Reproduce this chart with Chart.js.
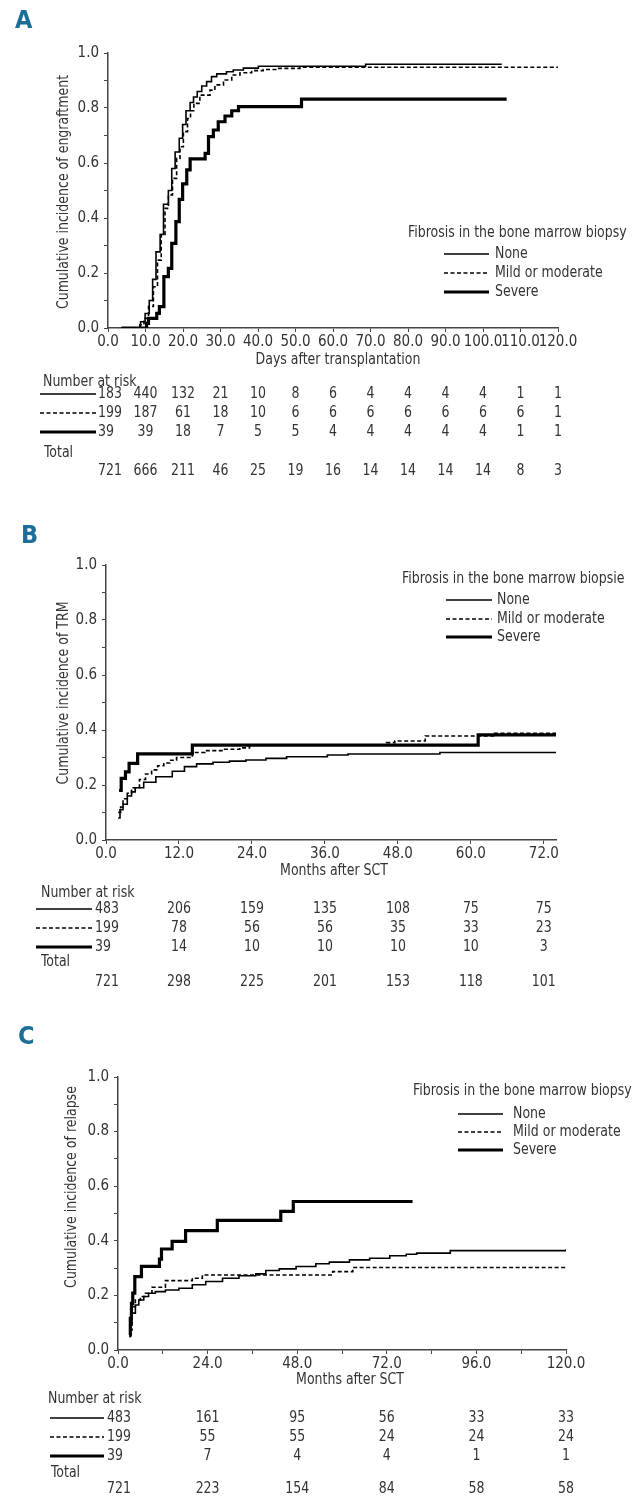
<!DOCTYPE html>
<html>
<head>
<meta charset="utf-8">
<script src="https://cdn.jsdelivr.net/npm/chart.js@4.4.1/dist/chart.umd.min.js"></script>
<style>
  body { margin: 0; background: #fff; }
  #wrap { position: relative; width: 640px; height: 1498px; }
  canvas { position: absolute; left: 0; }
</style>
</head>
<body>
<div id="wrap">
  <canvas id="chartA" width="640" height="505" style="top:0px"></canvas>
  <canvas id="chartB" width="640" height="495" style="top:505px"></canvas>
  <canvas id="chartC" width="640" height="498" style="top:1000px"></canvas>
</div>
<script>
// groups (legend)
const groups = ['None', 'Mild or moderate', 'Severe'];

// ---- Panel A: engraftment (days) ----
const noneA_t = [3.6, 8.7, 9.9, 11.0, 11.9, 12.8, 13.9, 14.8, 16.1, 17.0, 17.9, 19.0, 19.9, 20.8, 21.9, 22.8, 23.8, 25.0, 26.3, 27.6, 29.0, 31.6, 33.4, 36.1, 40.1, 68.7, 105];
const noneA_v = [0, 0.023, 0.053, 0.10, 0.177, 0.277, 0.34, 0.45, 0.50, 0.58, 0.64, 0.69, 0.74, 0.79, 0.82, 0.84, 0.86, 0.88, 0.896, 0.914, 0.924, 0.932, 0.938, 0.945, 0.952, 0.959, 0.959];
const mildA_t = [3.6, 8.5, 9.6, 10.8, 12.1, 13.2, 14.2, 15.2, 16.1, 17.2, 18.3, 19.2, 20.1, 21.2, 22.0, 22.9, 24.5, 27.2, 28.5, 30.8, 33.0, 35.2, 38.3, 41.4, 45.0, 51.2, 120];
const mildA_v = [0, 0.012, 0.035, 0.078, 0.15, 0.247, 0.34, 0.435, 0.484, 0.544, 0.617, 0.659, 0.714, 0.762, 0.79, 0.817, 0.847, 0.865, 0.884, 0.902, 0.92, 0.928, 0.936, 0.94, 0.944, 0.948, 0.948];
const sevA_t = [3.6, 10.3, 10.8, 13.0, 13.7, 14.9, 16.1, 17.0, 18.1, 19.0, 19.9, 21.0, 21.9, 25.9, 26.8, 28.1, 29.4, 31.2, 33.0, 34.8, 51.6, 106.3];
const sevA_v = [0, 0.017, 0.035, 0.053, 0.078, 0.187, 0.217, 0.308, 0.387, 0.468, 0.524, 0.575, 0.615, 0.635, 0.696, 0.72, 0.75, 0.771, 0.79, 0.805, 0.832, 0.832];
const xTicksA = [0, 10, 20, 30, 40, 50, 60, 70, 80, 90, 100, 110, 120];
const riskA = [
  [183, 440, 132, 21, 10, 8, 6, 4, 4, 4, 4, 1, 1],
  [199, 187, 61, 18, 10, 6, 6, 6, 6, 6, 6, 6, 1],
  [39, 39, 18, 7, 5, 5, 4, 4, 4, 4, 4, 1, 1]
];
const totalA = [721, 666, 211, 46, 25, 19, 16, 14, 14, 14, 14, 8, 3];

// ---- Panel B: TRM (months) ----
const noneB_t = [2.0, 2.3, 2.8, 3.5, 4.2, 4.8, 6.2, 8.2, 10.9, 12.9, 14.9, 17.6, 20.3, 23.0, 26.3, 29.7, 36.4, 39.8, 54.9, 74];
const noneB_v = [0.08, 0.11, 0.13, 0.16, 0.175, 0.19, 0.21, 0.23, 0.25, 0.267, 0.277, 0.283, 0.287, 0.291, 0.297, 0.303, 0.309, 0.313, 0.318, 0.318];
const mildB_t = [2.0, 2.4, 2.8, 3.5, 4.2, 5.5, 6.5, 7.5, 8.5, 9.5, 10.5, 11.6, 14.2, 16.3, 19.5, 22.0, 23.6, 46.1, 47.5, 52.5, 63.9, 74];
const mildB_v = [0.10, 0.12, 0.15, 0.17, 0.19, 0.22, 0.24, 0.255, 0.27, 0.28, 0.29, 0.30, 0.318, 0.325, 0.33, 0.335, 0.345, 0.354, 0.36, 0.378, 0.388, 0.388];
const sevB_t = [2.15, 2.5, 3.2, 3.8, 5.2, 14.2, 61.2, 74];
const sevB_v = [0.18, 0.224, 0.248, 0.279, 0.313, 0.345, 0.382, 0.382];
const xTicksB = [0, 12, 24, 36, 48, 60, 72];
const riskB = [
  [483, 206, 159, 135, 108, 75, 75],
  [199, 78, 56, 56, 35, 33, 23],
  [39, 14, 10, 10, 10, 10, 3]
];
const totalB = [721, 298, 225, 201, 153, 118, 101];

// ---- Panel C: relapse (months) ----
const noneC_t = [3.06, 3.3, 3.77, 4.66, 5.56, 6.9, 8.2, 10.0, 12.7, 16.3, 19.9, 23.5, 28.0, 32.4, 36.9, 39.6, 43.2, 47.7, 53.0, 56.6, 62.0, 67.4, 72.8, 77.2, 80, 89, 120];
const noneC_v = [0.05, 0.098, 0.135, 0.165, 0.183, 0.196, 0.208, 0.214, 0.22, 0.226, 0.239, 0.251, 0.263, 0.272, 0.279, 0.291, 0.297, 0.306, 0.316, 0.322, 0.33, 0.336, 0.345, 0.351, 0.355, 0.364, 0.369];
const mildC_t = [3.06, 3.3, 3.77, 4.66, 6.0, 7.35, 9.1, 12.7, 19.9, 22.6, 57.5, 62.9, 120];
const mildC_v = [0.05, 0.073, 0.159, 0.183, 0.196, 0.208, 0.23, 0.254, 0.263, 0.275, 0.287, 0.302, 0.302];
const sevC_t = [3.06, 3.3, 3.6, 3.95, 4.5, 6.28, 11.1, 11.65, 14.5, 18.1, 26.6, 43.6, 46.95, 78.9];
const sevC_v = [0.055, 0.116, 0.171, 0.208, 0.269, 0.306, 0.333, 0.37, 0.398, 0.437, 0.475, 0.508, 0.544, 0.544];
const xTicksC = [0, 12, 24, 36, 48, 60, 72, 84, 96, 108, 120];
const xLabelsC = [0, 24, 48, 72, 96, 120];
const riskC = [
  [483, 161, 95, 56, 33, 33],
  [199, 55, 55, 24, 24, 24],
  [39, 7, 4, 4, 1, 1]
];
const totalC = [721, 223, 154, 84, 58, 58];

const yTicks = [0, 0.1, 0.2, 0.3, 0.4, 0.5, 0.6, 0.7, 0.8, 0.9, 1.0];

const FONT = '"Liberation Sans Narrow", "DejaVu Sans Condensed", Roboto, sans-serif';
const TXT = '#333';
const AXIS = '#444';
const BLUE = '#1b6e98';
const SQUEEZE = 0.93; // the figure's type is a little narrower than ours
const styles = [
  { w: 1.6, dash: [] },
  { w: 1.6, dash: [4, 2.5] },
  { w: 3.2, dash: [] }
];

Chart.defaults.font.family = FONT;
Chart.defaults.font.size = 15;
Chart.defaults.color = TXT;

function pts(t, v) { return t.map((x, i) => ({ x: x, y: v[i] })); }

// text drawn slightly condensed
function txt(ctx, s, x, y) {
  ctx.fillText(s, x, y, ctx.measureText(s).width * SQUEEZE);
}

function sample(ctx, st, x0, x1, y) {
  ctx.save();
  ctx.strokeStyle = '#000';
  ctx.lineWidth = st.w;
  ctx.setLineDash(st.dash);
  ctx.beginPath();
  ctx.moveTo(x0, y);
  ctx.lineTo(x1, y);
  ctx.stroke();
  ctx.restore();
}

// draws the letter, axis titles, legend and the number-at-risk table
const panelDecor = {
  id: 'panelDecor',
  afterDraw(chart, args, o) {
    const ctx = chart.ctx;
    const xs = chart.scales.x;
    ctx.save();
    ctx.fillStyle = BLUE;
    ctx.font = 'bold 25px ' + FONT;
    ctx.textAlign = 'left';
    ctx.textBaseline = 'alphabetic';
    ctx.fillText(o.letter, o.letterX, o.letterY);

    ctx.fillStyle = TXT;
    ctx.font = '15px ' + FONT;
    ctx.textBaseline = 'middle';
    ctx.textAlign = 'center';
    txt(ctx, o.xTitle, o.xTitleX, o.xTitleY);
    ctx.save();
    ctx.translate(o.yTitleX, o.yTitleY);
    ctx.rotate(-Math.PI / 2);
    txt(ctx, o.yTitle, 0, 0);
    ctx.restore();

    // legend
    ctx.textAlign = 'left';
    txt(ctx, o.legTitle, o.legX, o.legTitleY);
    o.legRows.forEach((y, i) => {
      sample(ctx, styles[i], o.legLine[0], o.legLine[1], y);
      txt(ctx, groups[i], o.legTextX, y);
    });

    // number at risk
    txt(ctx, 'Number at risk', o.narX, o.narY);
    txt(ctx, 'Total', o.totX, o.totY);
    const drawRow = (vals, y) => {
      vals.forEach((n, j) => {
        if (j === 0) {
          ctx.textAlign = 'left';
          txt(ctx, String(n), o.firstX, y);
        } else {
          ctx.textAlign = 'center';
          txt(ctx, String(n), xs.getPixelForValue(o.cols[j]), y);
        }
      });
    };
    o.risk.forEach((row, i) => {
      sample(ctx, styles[i], o.tabLine[0], o.tabLine[1], o.rows[i]);
      drawRow(row, o.rows[i]);
    });
    drawRow(o.total, o.totalsY);
    ctx.restore();
  }
};

function makePanel(id, series, xMax, xTicks, xLabels, area, H, deco) {
  const ds = series.map((s, i) => ({
    data: pts(s[0], s[1]),
    stepped: true,
    borderColor: '#000',
    borderWidth: styles[i].w,
    borderDash: styles[i].dash,
    pointRadius: 0,
    fill: false
  }));
  new Chart(document.getElementById(id), {
    type: 'line',
    data: { datasets: ds },
    plugins: [panelDecor],
    options: {
      responsive: false,
      animation: false,
      layout: { padding: { left: area.left - 60, right: 640 - area.right, top: area.top, bottom: H - area.bottom - 40 } },
      plugins: { legend: { display: false }, tooltip: { enabled: false }, panelDecor: deco },
      scales: {
        x: {
          type: 'linear', min: 0, max: xMax,
          afterBuildTicks: s => { s.ticks = xTicks.map(v => ({ value: v })); },
          afterFit: s => { s.height = 40; },
          border: { display: true, color: AXIS, width: 1.5 },
          grid: { drawOnChartArea: false, drawTicks: true, tickLength: 4, color: AXIS },
          ticks: { autoSkip: false, maxRotation: 0, padding: 1, color: TXT,
            callback: v => xLabels.includes(v) ? v.toFixed(1) : '' }
        },
        y: {
          min: 0, max: 1,
          afterBuildTicks: s => { s.ticks = yTicks.map(v => ({ value: v })); },
          afterFit: s => { s.width = 60; },
          border: { display: true, color: AXIS, width: 1.5 },
          grid: { drawOnChartArea: false, drawTicks: true, tickLength: 4, color: AXIS },
          ticks: { padding: 5, color: TXT,
            callback: v => Math.round(v * 10) % 2 === 0 ? v.toFixed(1) : '' }
        }
      }
    }
  });
}

makePanel('chartA',
  [[noneA_t, noneA_v], [mildA_t, mildA_v], [sevA_t, sevA_v]],
  120, xTicksA, xTicksA, { left: 108, right: 558, top: 53, bottom: 328 }, 505,
  { letter: 'A', letterX: 15, letterY: 28,
    xTitle: 'Days after transplantation', xTitleX: 338, xTitleY: 360,
    yTitle: 'Cumulative incidence of engraftment', yTitleX: 64, yTitleY: 192,
    legTitle: 'Fibrosis in the bone marrow biopsy', legX: 408, legTitleY: 233,
    legRows: [254, 273, 292], legLine: [444, 489], legTextX: 495,
    narX: 43, narY: 382, totX: 44, totY: 453, tabLine: [40, 96], firstX: 98,
    rows: [394, 413, 432], totalsY: 471, cols: xTicksA, risk: riskA, total: totalA });

makePanel('chartB',
  [[noneB_t, noneB_v], [mildB_t, mildB_v], [sevB_t, sevB_v]],
  74, xTicksB, xTicksB, { left: 106, right: 556, top: 60, bottom: 335 }, 495,
  { letter: 'B', letterX: 21, letterY: 38,
    xTitle: 'Months after SCT', xTitleX: 334, xTitleY: 366,
    yTitle: 'Cumulative incidence of TRM', yTitleX: 64, yTitleY: 188,
    legTitle: 'Fibrosis in the bone marrow biopsie', legX: 402, legTitleY: 74,
    legRows: [95, 114, 132], legLine: [446, 492], legTextX: 497,
    narX: 41, narY: 388, totX: 41, totY: 457, tabLine: [36, 92], firstX: 95,
    rows: [404, 423, 442], totalsY: 477, cols: xTicksB, risk: riskB, total: totalB });

makePanel('chartC',
  [[noneC_t, noneC_v], [mildC_t, mildC_v], [sevC_t, sevC_v]],
  120, xTicksC, xLabelsC, { left: 118, right: 566, top: 77, bottom: 350 }, 498,
  { letter: 'C', letterX: 18, letterY: 44,
    xTitle: 'Months after SCT', xTitleX: 350, xTitleY: 380,
    yTitle: 'Cumulative incidence of relapse', yTitleX: 72, yTitleY: 187,
    legTitle: 'Fibrosis in the bone marrow biopsy', legX: 413, legTitleY: 91,
    legRows: [114, 132, 150], legLine: [458, 503], legTextX: 513,
    narX: 48, narY: 399, totX: 51, totY: 473, tabLine: [50, 104], firstX: 107,
    rows: [418, 437, 456], totalsY: 489, cols: xLabelsC, risk: riskC, total: totalC });
</script>
</body>
</html>
